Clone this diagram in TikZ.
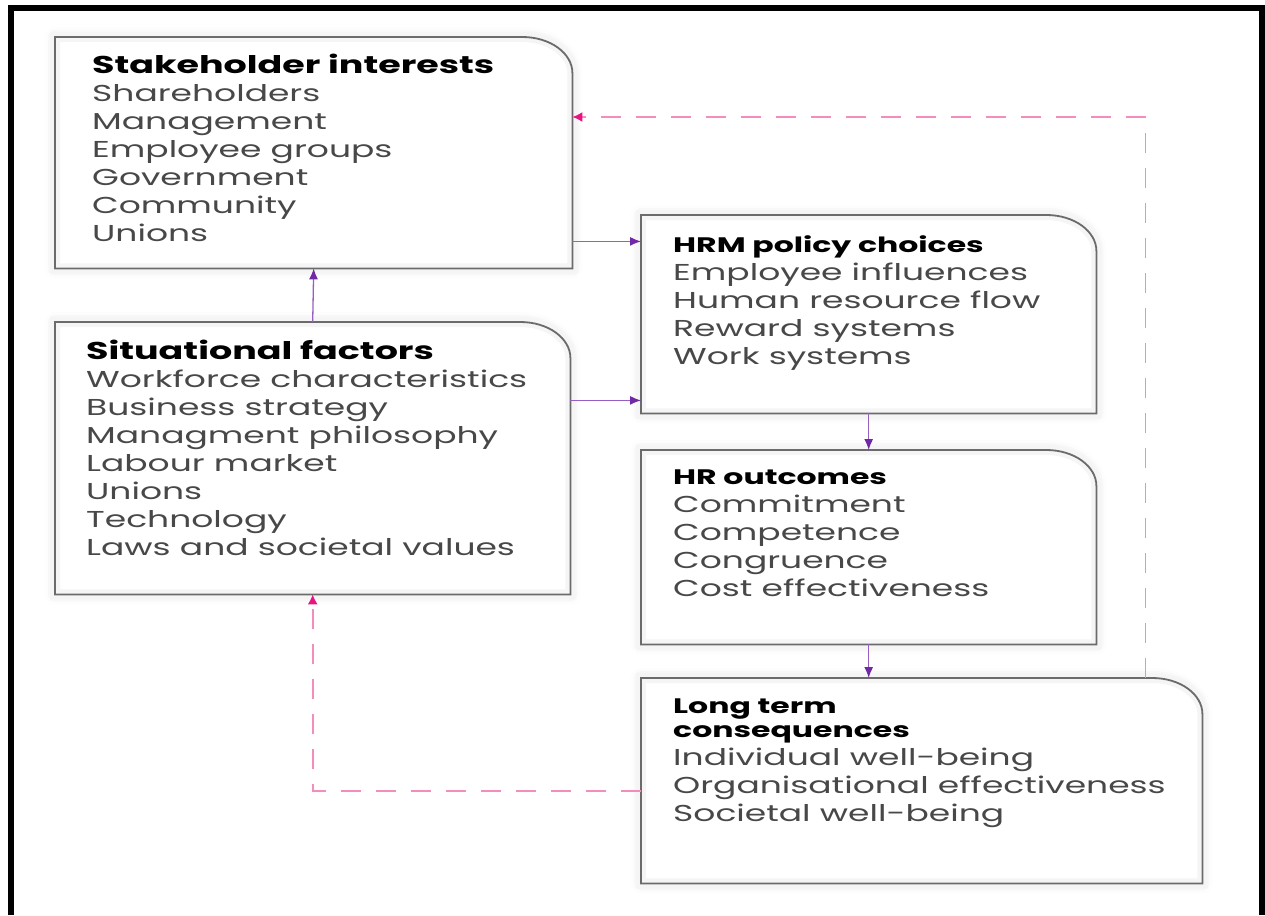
\documentclass[tikz,border=0pt]{standalone}
\usepackage{fontspec}
\setmainfont{Poppins}[FakeStretch=1.5]
\usetikzlibrary{arrows.meta,shadows.blur}

\definecolor{flowpurple}{RGB}{112,40,165}
\definecolor{flowline}{RGB}{150,95,195}
\definecolor{loopink}{RGB}{244,140,190}
\definecolor{tippink}{RGB}{232,20,130}
\definecolor{itemgrey}{RGB}{72,72,72}

\tikzset{
  panel/.style={anchor=north west, inner sep=0pt},
  panelline/.style={fill=white,
    blur shadow={shadow xshift=0pt, shadow yshift=0pt, shadow blur radius=10pt, shadow opacity=15},
    postaction={draw=black!4, line width=10pt},
    postaction={draw=black!58, line width=1.8pt}},
  paneltext/.style={anchor=base west, inner sep=0pt, text=itemgrey,
    font=\fontsize{23}{28}\selectfont},
  flow/.style={flowline, line width=1.3pt, -{Latex[length=11pt,width=9pt,color=flowpurple]}},
  feedback/.style={loopink, line width=1.6pt, dash pattern=on 20pt off 15pt,
    -{Latex[length=10pt,width=10pt,color=tippink]}}
}

% box with one rounded corner (top right)
\newcommand{\panelframe}[1]{%
  \path[panelline] (#1.south west) -- (#1.north west) -- ([xshift=-50pt]#1.north east)
    arc[start angle=90, end angle=0, x radius=50pt, y radius=36pt] -- (#1.south east) -- cycle;}
\newcommand{\headbig}[1]{\leavevmode{\color{black}\bfseries\fontsize{24.3}{28}\selectfont #1}}
\newcommand{\headsmall}[1]{\leavevmode{\color{black}\bfseries\fontsize{21}{24}\selectfont #1}}

\begin{document}
\begin{tikzpicture}[x=1pt,y=-1pt]
  \useasboundingbox (0,0) rectangle (1265,915);

  % outer frame, open at the bottom
  \draw[line width=6pt] (11,915) -- (11,8) -- (1262,8) -- (1262,915);

  % the five boxes
  \node[panel, minimum width=517pt, minimum height=231pt] (stake) at (55,37) {};
  \node[panel, minimum width=515pt, minimum height=272pt] (situ) at (55,322) {};
  \node[panel, minimum width=455pt, minimum height=198pt] (hrm) at (641,215) {};
  \node[panel, minimum width=455pt, minimum height=194pt] (hro) at (641,450) {};
  \node[panel, minimum width=561pt, minimum height=205pt] (long) at (641,678) {};
  \foreach \b in {stake,situ,hrm,hro,long} {\panelframe{\b}}

  \node[paneltext] (staketext) at ([shift={(37,37)}]stake.north west)
    {\parbox[t]{500pt}{\headbig{Stakeholder interests}\\Shareholders\\Management\\Employee groups\\Government\\Community\\Unions}};
  \node[paneltext] (situtext) at ([shift={(31,37)}]situ.north west)
    {\parbox[t]{500pt}{\headbig{Situational factors}\\Workforce characteristics\\Business strategy\\Managment philosophy\\Labour market\\Unions\\Technology\\Laws and societal values}};
  \node[paneltext] (hrmtext) at ([shift={(32,37)}]hrm.north west)
    {\parbox[t]{500pt}{\headsmall{HRM policy choices}\\Employee influences\\Human resource flow\\Reward systems\\Work systems}};
  \node[paneltext] (hrotext) at ([shift={(32,34)}]hro.north west)
    {\parbox[t]{500pt}{\headsmall{HR outcomes}\\Commitment\\Competence\\Congruence\\Cost effectiveness}};
  \node[paneltext] (longtext) at ([shift={(32,35)}]long.north west)
    {\parbox[t]{500pt}{\headsmall{Long term}\\[-4pt]\headsmall{consequences}\\Individual well-being\\Organisational effectiveness\\Societal well-being}};

  % solid links
  \coordinate (s1) at ([yshift=27pt]stake.south east);
  \coordinate (s2) at ([yshift=13pt]hrm.south west);
  \draw[flow] (situ.north) -- (stake.south);
  \draw[flow] (s1) -- (s1 -| hrm.west);
  \draw[flow] (s2 -| situ.east) -- (s2);
  \draw[flow] (hrm.south) -- (hro.north);
  \draw[flow] (hro.south) -- (hro.south |- long.north);

  % dashed feedback loops
  \coordinate (f1) at ([xshift=-57pt]long.north east);
  \coordinate (f2) at ([yshift=-80pt]stake.north east);
  \coordinate (f3) at ([yshift=-113pt]long.north west);
  \draw[feedback] (f1) |- (f2);
  \draw[feedback] (f3) -| (situ.south);
\end{tikzpicture}
\end{document}
